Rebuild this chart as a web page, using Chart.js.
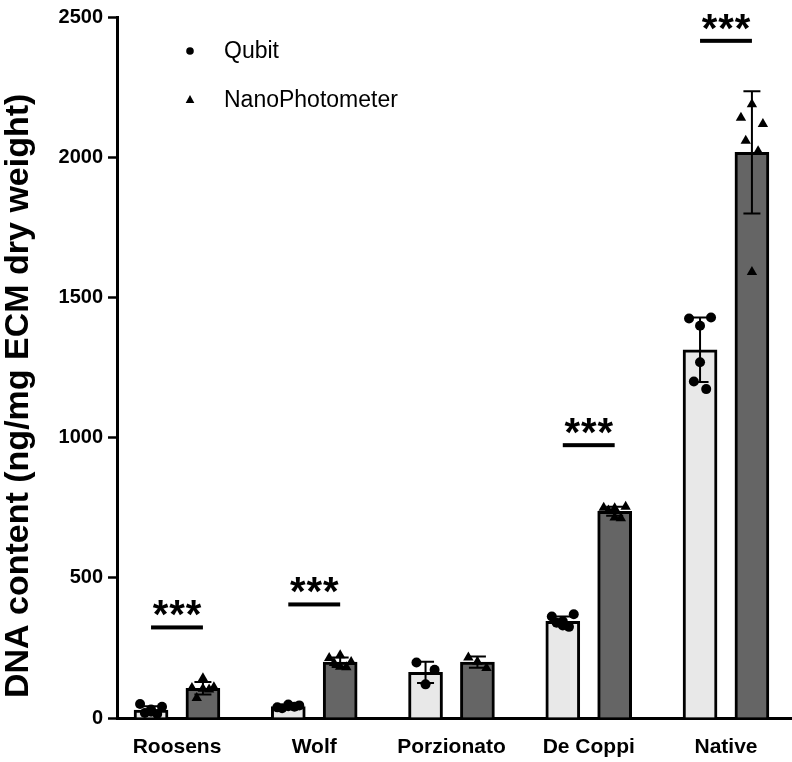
<!DOCTYPE html>
<html><head><meta charset="utf-8">
<script src="https://cdn.jsdelivr.net/npm/chart.js@4.4.1/dist/chart.umd.min.js"></script>
<style>html,body{margin:0;padding:0;background:#fff;}#wrap{width:792px;height:762px;}</style>
</head><body><div id="wrap"><canvas id="c" width="792" height="762"></canvas></div>
<script>
// ---- data ----
const categories = ['Roosens', 'Wolf', 'Porzionato', 'De Coppi', 'Native'];
const seriesNames = ['Qubit', 'NanoPhotometer'];
const qubitMean = [28, 41, 163, 345, 1313];
const qubitSD = [14, 5, 38, 17, 115];
const nanoMean = [106, 199, 199, 737, 2017];
const nanoSD = [22, 17, 20, 16, 218];
const qubitPoints = [
  [50, 40, 30, 22, 18, 14],
  [38, 45, 42, 48, 35, 40],
  [198, 172, 120],
  [362, 370, 345, 330, 340, 325],
  [1425, 1428, 1399, 1269, 1200, 1173]
];
const nanoPoints = [
  [107, 110, 142, 104, 71, 102],
  [214, 200, 224, 183, 196, 181],
  [216, 178, 201],
  [750, 753, 748, 715, 740, 712],
  [2141, 2118, 2189, 1591, 2059, 2021]
];
const sigLevels = [323, 405, null, 973, 2415];
const sigLabels = ['***', '***', '', '***', '***'];
const yTicks = [0, 500, 1000, 1500, 2000, 2500];
const yTitle = 'DNA content (ng/mg ECM dry weight)';

// ---- layout / style constants ----
const GROUP_OFF = 0.189;
const JITTER = { 6: [-0.08, 0.08, 0, 0, -0.045, 0.045], 3: [-0.066, 0.066, 0] };
const FONT = 'Liberation Sans, Arial, Helvetica, sans-serif';

function pts(groups, side) {
  const out = [];
  groups.forEach((g, i) => {
    const j = JITTER[g.length] || g.map(() => 0);
    g.forEach((v, k) => out.push({ x: i + side * GROUP_OFF + j[k], y: v }));
  });
  return out;
}

const errorBars = {
  id: 'errorBars',
  afterDatasetDraw(chart, args) {
    const ds = chart.data.datasets[args.index];
    if (!ds.sd) return;
    const ctx = chart.ctx, ys = chart.scales.y;
    ctx.save();
    ctx.strokeStyle = '#000'; ctx.lineWidth = 2;
    args.meta.data.forEach((el, i) => {
      const m = ds.data[i].y, s = ds.sd[i];
      const yt = ys.getPixelForValue(m + s), yb = ys.getPixelForValue(m - s);
      ctx.beginPath();
      ctx.moveTo(el.x, yt); ctx.lineTo(el.x, yb);
      ctx.moveTo(el.x - 8.5, yt); ctx.lineTo(el.x + 8.5, yt);
      ctx.moveTo(el.x - 8.5, yb); ctx.lineTo(el.x + 8.5, yb);
      ctx.stroke();
    });
    ctx.restore();
  }
};

const overlay = {
  id: 'overlay',
  afterDraw(chart) {
    const ctx = chart.ctx, xs = chart.scales.x, ys = chart.scales.y, ca = chart.chartArea;
    ctx.save();
    ctx.fillStyle = '#000';
    // significance bars
    sigLevels.forEach((lv, i) => {
      if (lv == null) return;
      const x1 = xs.getPixelForValue(i - GROUP_OFF), x2 = xs.getPixelForValue(i + GROUP_OFF);
      const yp = ys.getPixelForValue(lv);
      ctx.fillRect(x1, yp - 2, x2 - x1, 4);
      const cx = (x1 + x2) / 2;
      ctx.font = 'bold 40px ' + FONT;
      ctx.textAlign = 'center'; ctx.textBaseline = 'alphabetic';
      const chars = sigLabels[i].split('');
      chars.forEach((ch, k) => ctx.fillText(ch, cx + (k - (chars.length - 1) / 2) * 16.5, yp + 1));
    });
    // legend
    const lx = ca.left + 73, ly1 = ca.top + 34, ly2 = ca.top + 83;
    ctx.beginPath(); ctx.arc(lx, ly1, 3.8, 0, Math.PI * 2); ctx.fill();
    const r = 5;
    ctx.beginPath();
    ctx.moveTo(lx, ly2 - r);
    ctx.lineTo(lx + r * Math.sin(Math.PI / 3), ly2 + r / 2 + 0.5);
    ctx.lineTo(lx - r * Math.sin(Math.PI / 3), ly2 + r / 2 + 0.5);
    ctx.closePath(); ctx.fill();
    ctx.font = '23px ' + FONT;
    ctx.textAlign = 'left'; ctx.textBaseline = 'middle';
    ctx.fillText(seriesNames[0], lx + 34, ly1 + 1);
    ctx.fillText(seriesNames[1], lx + 34, ly2 + 1);
    ctx.restore();
  }
};

new Chart(document.getElementById('c'), {
  type: 'bar',
  data: {
    datasets: [
      { type: 'bar', label: seriesNames[0], data: categories.map((_, i) => ({ x: i - GROUP_OFF, y: qubitMean[i] })),
        sd: qubitSD, backgroundColor: '#e8e8e8', borderColor: '#000', borderWidth: 3, barThickness: 34, grouped: false, order: 2 },
      { type: 'bar', label: seriesNames[1], data: categories.map((_, i) => ({ x: i + GROUP_OFF, y: nanoMean[i] })),
        sd: nanoSD, backgroundColor: '#656565', borderColor: '#000', borderWidth: 3, barThickness: 34, grouped: false, order: 2 },
      { type: 'scatter', label: seriesNames[0] + ' points', data: pts(qubitPoints, -1), pointStyle: 'circle', radius: 5,
        backgroundColor: '#000', borderColor: '#000', borderWidth: 0, order: 1 },
      { type: 'scatter', label: seriesNames[1] + ' points', data: pts(nanoPoints, 1), pointStyle: 'triangle', radius: 6,
        backgroundColor: '#000', borderColor: '#000', borderWidth: 0, order: 1 }
    ]
  },
  options: {
    responsive: false,
    animation: false,
    layout: { autoPadding: false, padding: { top: 13, left: 0, right: 0, bottom: 0 } },
    plugins: { legend: { display: false }, tooltip: { enabled: false } },
    scales: {
      x: {
        type: 'linear', min: -0.437, max: 4.481, offset: false,
        afterFit(s) { s.height = 44; },
        afterBuildTicks(s) { s.ticks = categories.map((_, i) => ({ value: i })); },
        grid: { display: false, drawTicks: false, offset: false },
        border: { display: true, color: '#000', width: 3 },
        ticks: { callback: v => categories[v] ?? '', color: '#000', padding: 17, autoSkip: false, maxRotation: 0,
          font: { family: FONT, size: 21, weight: 'bold' } }
      },
      y: {
        min: 0, max: 2500,
        afterFit(s) { s.width = 117; },
        afterBuildTicks(s) { s.ticks = yTicks.map(v => ({ value: v })); },
        grid: { drawOnChartArea: false, drawTicks: true, tickLength: 9, tickWidth: 2.5, color: '#000' },
        border: { display: true, color: '#000', width: 3 },
        ticks: { color: '#000', padding: 5, callback: v => String(v), font: { family: FONT, size: 20, weight: 'bold' } },
        title: { display: true, text: yTitle + '\u00a0\u00a0\u00a0\u00a0\u00a0\u00a0', color: '#000', padding: 0,
          font: { family: FONT, size: 34, weight: 'bold', lineHeight: 1.1 } }
      }
    }
  },
  plugins: [errorBars, overlay]
});
</script></body></html>
